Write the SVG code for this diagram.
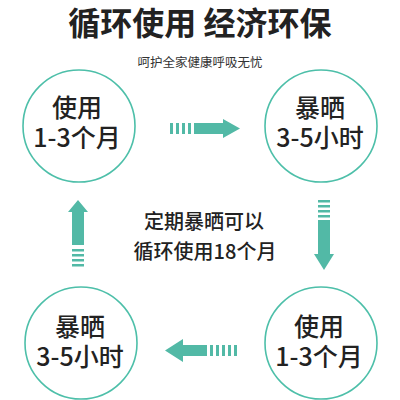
<svg xmlns="http://www.w3.org/2000/svg" width="400" height="400" viewBox="0 0 400 400">
<style>
.t{font-family:"Noto Sans CJK SC","Noto Sans",sans-serif;fill:#222;text-anchor:middle}
.title{font-size:32px;font-weight:700}
.sub{font-size:12.5px;fill:#333}
.node circle{fill:#fff;stroke:#4dbfa9;stroke-width:1.6}
.node text{font-size:25px;font-weight:500}
.mid{font-size:20px;font-weight:500}
.arr{fill:#52b9a6}
</style>
<rect width="400" height="400" fill="#fff"/>
<text class="t title" x="200" y="35">循环使用 经济环保</text>
<text class="t sub" x="200" y="67">呵护全家健康呼吸无忧</text>
<g id="n1" class="node"><circle cx="79" cy="126" r="56"/><text class="t" x="77" y="117">使用</text><text class="t" x="77" y="147">1-3个月</text></g>
<g id="n2" class="node"><circle cx="321" cy="126" r="56"/><text class="t" x="320" y="117">暴晒</text><text class="t" x="320" y="147">3-5小时</text></g>
<g id="n3" class="node"><circle cx="321" cy="343" r="56"/><text class="t" x="319" y="336">使用</text><text class="t" x="319" y="366">1-3个月</text></g>
<g id="n4" class="node"><circle cx="81" cy="343" r="56"/><text class="t" x="80" y="336">暴晒</text><text class="t" x="80" y="366">3-5小时</text></g>
<text class="t mid" x="204" y="229">定期暴晒可以</text>
<text class="t mid" x="205" y="259">循环使用18个月</text>
<g id="connectors" class="arr">
<g id="a1"><rect x="170" y="123" width="3" height="11"/><rect x="176" y="123" width="3" height="11"/><rect x="182" y="123" width="3" height="11"/><rect x="188" y="123" width="3" height="11"/><path d="M194 123H223V119L240 128.5L223 138V134H194Z"/></g>
<g id="a2"><rect x="318" y="200" width="12" height="2.5"/><rect x="318" y="205" width="12" height="2.5"/><rect x="318" y="210" width="12" height="2.5"/><rect x="318" y="215" width="12" height="2.5"/><path d="M318 220V254H314L324 270L334 254H330V220Z"/></g>
<g id="a3"><rect x="210" y="345" width="3" height="11"/><rect x="216" y="345" width="3" height="11"/><rect x="222" y="345" width="3" height="11"/><rect x="228" y="345" width="3" height="11"/><rect x="234" y="345" width="3" height="11"/><path d="M207 345H183V339L165 350.5L183 362V356H207Z"/></g>
<g id="a4"><path d="M72 245V212H68L78 200L88 212H84V245Z"/><rect x="72" y="249" width="12" height="2.5"/><rect x="72" y="254" width="12" height="2.5"/><rect x="72" y="259" width="12" height="2.5"/><rect x="72" y="264" width="12" height="2.5"/></g>
</g>
</svg>
